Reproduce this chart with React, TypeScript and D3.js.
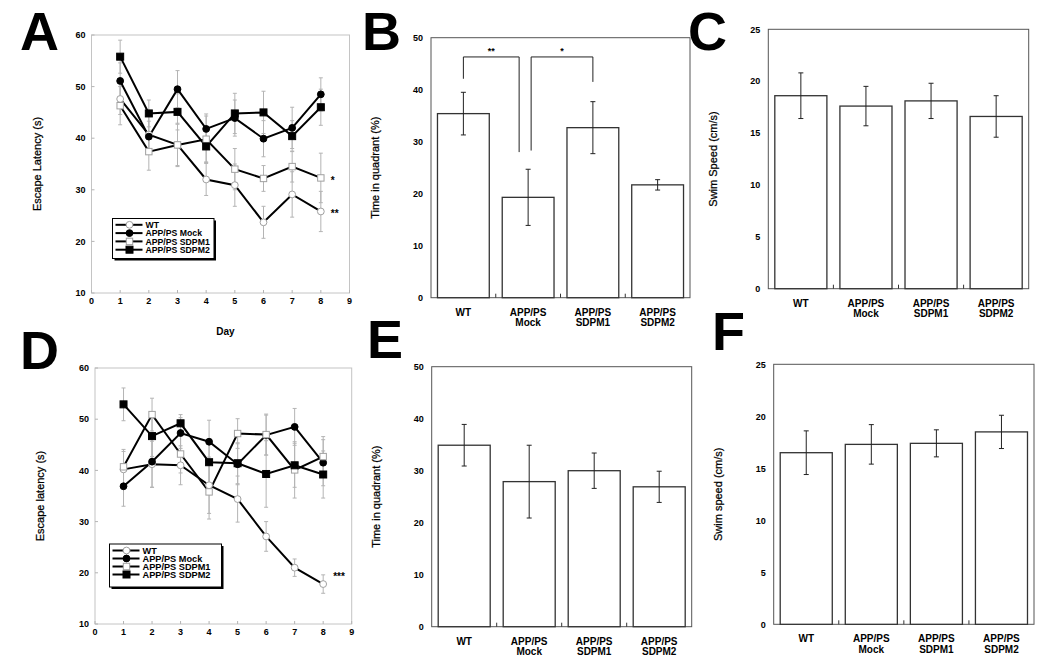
import React from "react";
import * as d3 from "d3";

// ---------- shared categories / ticks ----------
const days = [1, 2, 3, 4, 5, 6, 7, 8];
const dayTicks = [0, 1, 2, 3, 4, 5, 6, 7, 8, 9];
const latencyTicks = [10, 20, 30, 40, 50, 60];
const quadrantTicks = [0, 10, 20, 30, 40, 50];
const speedTicks = [0, 5, 10, 15, 20, 25];
const groupNames = ["WT", "APP/PS Mock", "APP/PS SDPM1", "APP/PS SDPM2"];
const groupLabels = [["WT"], ["APP/PS", "Mock"], ["APP/PS", "SDPM1"], ["APP/PS", "SDPM2"]];
const markerKinds = ["openCircle", "filledCircle", "openSquare", "filledSquare"];

// ---------- Panel A: escape latency ----------
const aWT = [47.6, 40.7, 38.7, 32.0, 30.9, 23.7, 29.1, 25.8];
const aWTErr = [3.0, 3.5, 4.0, 3.1, 4.1, 3.1, 4.4, 3.9];
const aMock = [51.1, 40.3, 49.5, 41.8, 43.9, 39.9, 42.0, 48.5];
const aMockErr = [3.5, 3.0, 3.6, 2.9, 3.5, 3.5, 4.0, 3.2];
const aS1 = [46.3, 37.4, 38.7, 39.8, 34.0, 32.2, 34.5, 32.3];
const aS1Err = [3.7, 3.6, 4.2, 4.5, 4.0, 2.5, 3.0, 4.8];
const aS2 = [55.8, 44.8, 45.1, 38.4, 44.8, 45.0, 40.4, 46.0];
const aS2Err = [3.2, 2.6, 3.5, 3.0, 3.9, 4.1, 3.0, 3.5];
const aStars = [
  { series: 2, text: "*", dy: 0 },
  { series: 0, text: "**", dy: 0 },
];

// ---------- Panel D: escape latency ----------
const dWT = [40.2, 41.2, 41.0, 37.1, 34.4, 27.1, 21.0, 17.8];
const dWTErr = [3.5, 4.5, 3.8, 5.5, 4.5, 2.9, 1.7, 1.8];
const dMock = [36.9, 41.7, 47.3, 45.6, 41.2, 46.9, 48.5, 41.5];
const dMockErr = [3.9, 5.0, 3.0, 4.2, 4.0, 3.9, 3.6, 4.5];
const dS1 = [40.7, 50.9, 43.2, 35.8, 47.2, 47.0, 40.1, 42.7];
const dS1Err = [3.4, 3.2, 3.7, 5.3, 2.9, 4.0, 5.5, 3.9];
const dS2 = [52.9, 46.7, 49.2, 41.6, 41.4, 39.3, 41.0, 39.2];
const dS2Err = [3.2, 4.0, 1.7, 4.0, 4.0, 6.5, 4.3, 4.6];
const dStars = [{ series: 0, text: "***", dy: -10 }];

// ---------- Bar panels ----------
const bMean = [35.4, 19.3, 32.7, 21.7];
const bErr = [4.1, 5.4, 5.0, 1.0];
const cMean = [18.6, 17.6, 18.1, 16.6];
const cErr = [2.2, 1.9, 1.7, 2.0];
const eMean = [34.9, 27.9, 30.0, 26.9];
const eErr = [4.0, 7.0, 3.4, 3.0];
const fMean = [16.5, 17.3, 17.4, 18.5];
const fErr = [2.1, 1.9, 1.3, 1.6];

const bBrackets = [
  { from: 0, to: 1, top: 46.3, fromEnd: 42.1, toEnd: 28.0, label: "**", fromDx: 0, toDx: -9 },
  { from: 1, to: 2, top: 46.3, fromEnd: 28.3, toEnd: 41.5, label: "*", fromDx: 3, toDx: 0 },
];

const FONT = "'Liberation Sans', Arial, Helvetica, sans-serif";

function Marker({ kind, cx, cy }: { kind: string; cx: number; cy: number }) {
  const open = kind.startsWith("open");
  const fill = open ? "#fff" : "#000";
  const stroke = open ? "#a0a0a0" : "#000";
  if (kind.endsWith("Circle")) {
    return <circle cx={cx} cy={cy} r={3.4} fill={fill} stroke={stroke} strokeWidth={1} />;
  }
  const s = open ? 6.4 : 7;
  return <rect x={cx - s / 2} y={cy - s / 2} width={s} height={s} fill={fill} stroke={stroke} strokeWidth={1} />;
}

type Series = { values: number[]; errs: number[]; kind: string };
type Star = { series: number; text: string; dy: number };

function LinePanel(props: {
  frame: { l: number; r: number; t: number; b: number };
  series: Series[];
  yTitle: string;
  titleX: number;
  legend: { x: number; y: number; w: number; h: number; row0: number; gap: number; fs: number };
  stars: Star[];
  showDay: boolean;
}) {
  const { frame, series, yTitle, titleX, legend, stars, showDay } = props;
  const x = d3.scaleLinear().domain([0, 9]).range([frame.l, frame.r]);
  const y = d3.scaleLinear().domain([10, 60]).range([frame.b, frame.t]);
  const line = d3
    .line<number>()
    .x((_, i) => x(days[i]))
    .y((d) => y(d));
  const gray = "#b4b4b4";
  return (
    <g fontFamily={FONT}>
      <rect x={frame.l} y={frame.t} width={frame.r - frame.l} height={frame.b - frame.t} fill="none" stroke="#c4c4c4" strokeWidth={1} />
      {latencyTicks.map((t) => (
        <g key={"yt" + t}>
          <line x1={frame.l} x2={frame.l + 3} y1={y(t)} y2={y(t)} stroke={gray} />
          <text x={frame.l - 6} y={y(t) + 3.2} textAnchor="end" fontSize={9} fontWeight="bold">
            {t}
          </text>
        </g>
      ))}
      {dayTicks.map((t) => (
        <g key={"xt" + t}>
          <line x1={x(t)} x2={x(t)} y1={frame.b} y2={frame.b - 3} stroke={gray} />
          <text x={x(t)} y={frame.b + 11} textAnchor="middle" fontSize={9} fontWeight="bold">
            {t}
          </text>
        </g>
      ))}
      {showDay && (
        <text x={(x(0) + x(9)) / 2 + 5} y={frame.b + 42} textAnchor="middle" fontSize={10} fontWeight="bold">
          Day
        </text>
      )}
      <text
        transform={`translate(${titleX},${(frame.t + frame.b) / 2}) rotate(-90)`}
        textAnchor="middle"
        fontSize={11}
        fill="#000"
        stroke="#000"
        strokeWidth={0.25}
      >
        {yTitle}
      </text>
      {/* error bars */}
      {series.map((s, si) =>
        s.values.map((v, i) => {
          const cx = x(days[i]);
          const hi = y(v + s.errs[i]);
          const lo = y(v - s.errs[i]);
          return (
            <g key={`e${si}-${i}`} stroke={gray} strokeWidth={1}>
              <line x1={cx} x2={cx} y1={hi} y2={lo} />
              <line x1={cx - 2} x2={cx + 2} y1={hi} y2={hi} />
              <line x1={cx - 2} x2={cx + 2} y1={lo} y2={lo} />
            </g>
          );
        })
      )}
      {series.map((s, si) => (
        <path key={"l" + si} d={line(s.values) || ""} fill="none" stroke="#000" strokeWidth={2} strokeLinejoin="miter" />
      ))}
      {series.map((s, si) =>
        s.values.map((v, i) => <Marker key={`m${si}-${i}`} kind={s.kind} cx={x(days[i])} cy={y(v)} />)
      )}
      {stars.map((st, i) => (
        <text
          key={"st" + i}
          x={x(8) + 10}
          y={y(series[st.series].values[7]) + 6 + st.dy}
          fontSize={10}
          fontWeight="bold"
        >
          {st.text}
        </text>
      ))}
      {/* legend */}
      <rect x={legend.x + 2} y={legend.y + 2} width={legend.w} height={legend.h} fill="#000" />
      <rect x={legend.x} y={legend.y} width={legend.w} height={legend.h} fill="#fff" stroke="#000" strokeWidth={1} />
      {groupNames.map((g, i) => {
        const ry = legend.y + legend.row0 + i * legend.gap;
        return (
          <g key={"lg" + i}>
            <line x1={legend.x + 3} x2={legend.x + 30} y1={ry} y2={ry} stroke="#000" strokeWidth={2} />
            <Marker kind={markerKinds[i]} cx={legend.x + 17} cy={ry} />
            <text x={legend.x + 33} y={ry + 3.2} fontSize={legend.fs} fontWeight="bold">
              {g}
            </text>
          </g>
        );
      })}
    </g>
  );
}

type Bracket = { from: number; to: number; top: number; fromEnd: number; toEnd: number; label: string; fromDx: number; toDx: number };

function BarPanel(props: {
  frame: { l: number; r: number; t: number; b: number };
  means: number[];
  errs: number[];
  ticks: number[];
  yTitle: string;
  titleX: number;
  brackets?: Bracket[];
}) {
  const { frame, means, errs, ticks, yTitle, titleX, brackets } = props;
  const x = d3.scaleBand<string>().domain(groupNames).range([frame.l, frame.r]).paddingInner(0.2).paddingOuter(0.1);
  const y = d3.scaleLinear().domain([0, ticks[ticks.length - 1]]).range([frame.b, frame.t]);
  const step = x.step();
  const bw = x.bandwidth();
  return (
    <g fontFamily={FONT}>
      <rect x={frame.l} y={frame.t} width={frame.r - frame.l} height={frame.b - frame.t} fill="none" stroke="#555" strokeWidth={1} />
      {ticks.map((t) => (
        <text key={"t" + t} x={frame.l - 8} y={y(t) + 3.2} textAnchor="end" fontSize={9} fontWeight="bold">
          {t}
        </text>
      ))}
      {[1, 2, 3].map((i) => (
        <line key={"xt" + i} x1={frame.l + i * step} x2={frame.l + i * step} y1={frame.b} y2={frame.b - 4} stroke="#333" />
      ))}
      <text
        transform={`translate(${titleX},${(frame.t + frame.b) / 2}) rotate(-90)`}
        textAnchor="middle"
        fontSize={11}
        fill="#000"
        stroke="#000"
        strokeWidth={0.25}
      >
        {yTitle}
      </text>
      {means.map((m, i) => {
        const bx = x(groupNames[i]) as number;
        const cx = bx + bw / 2;
        const hi = y(m + errs[i]);
        const lo = y(m - errs[i]);
        return (
          <g key={"b" + i}>
            <rect x={bx} y={y(m)} width={bw} height={frame.b - y(m)} fill="#fff" stroke="#333" strokeWidth={1.3} />
            <g stroke="#222" strokeWidth={1}>
              <line x1={cx} x2={cx} y1={hi} y2={lo} />
              <line x1={cx - 2.5} x2={cx + 2.5} y1={hi} y2={hi} />
              <line x1={cx - 2.5} x2={cx + 2.5} y1={lo} y2={lo} />
            </g>
            {groupLabels[i].map((ln, k) => (
              <text key={k} x={cx} y={frame.b + 18 + k * 10.5} textAnchor="middle" fontSize={10} fontWeight="bold">
                {ln}
              </text>
            ))}
          </g>
        );
      })}
      {(brackets || []).map((br, i) => {
        const x1 = (x(groupNames[br.from]) as number) + bw / 2 + br.fromDx;
        const x2 = (x(groupNames[br.to]) as number) + bw / 2 + br.toDx;
        const yt = y(br.top);
        return (
          <g key={"br" + i}>
            <path
              d={`M${x1},${y(br.fromEnd)}V${yt}H${x2}V${y(br.toEnd)}`}
              fill="none"
              stroke="#222"
              strokeWidth={1}
            />
            <text x={(x1 + x2) / 2} y={yt - 3} textAnchor="middle" fontSize={9} fontWeight="bold">
              {br.label}
            </text>
          </g>
        );
      })}
    </g>
  );
}

function Letter({ x, y, t }: { x: number; y: number; t: string }) {
  return (
    <text x={x} y={y} fontFamily={FONT} fontSize={54} fontWeight="bold">
      {t}
    </text>
  );
}

export default function App() {
  const aSeries: Series[] = [
    { values: aWT, errs: aWTErr, kind: markerKinds[0] },
    { values: aMock, errs: aMockErr, kind: markerKinds[1] },
    { values: aS1, errs: aS1Err, kind: markerKinds[2] },
    { values: aS2, errs: aS2Err, kind: markerKinds[3] },
  ];
  const dSeries: Series[] = [
    { values: dWT, errs: dWTErr, kind: markerKinds[0] },
    { values: dMock, errs: dMockErr, kind: markerKinds[1] },
    { values: dS1, errs: dS1Err, kind: markerKinds[2] },
    { values: dS2, errs: dS2Err, kind: markerKinds[3] },
  ];
  return (
    <svg width={1050} height={671} style={{ position: "absolute", left: 0, top: 0, background: "#fff" }}>
      <rect width={1050} height={671} fill="#fff" />
      <Letter x={20} y={50} t="A" />
      <Letter x={362} y={50} t="B" />
      <Letter x={688} y={50} t="C" />
      <Letter x={20} y={369} t="D" />
      <Letter x={367} y={358} t="E" />
      <Letter x={712} y={350} t="F" />

      <LinePanel
        frame={{ l: 91.5, r: 349.5, t: 35, b: 293 }}
        series={aSeries}
        yTitle="Escape Latency (s)"
        titleX={41}
        legend={{ x: 112.5, y: 218.5, w: 101.5, h: 40, row0: 6.3, gap: 8.3, fs: 8.7 }}
        stars={aStars}
        showDay={true}
      />
      <LinePanel
        frame={{ l: 95, r: 351.7, t: 368, b: 624 }}
        series={dSeries}
        yTitle="Escape latency (s)"
        titleX={44}
        legend={{ x: 109.5, y: 544, w: 112, h: 43, row0: 6.5, gap: 8, fs: 9.2 }}
        stars={dStars}
        showDay={false}
      />
      <BarPanel
        frame={{ l: 431, r: 690, t: 37.7, b: 297.7 }}
        means={bMean}
        errs={bErr}
        ticks={quadrantTicks}
        yTitle="Time in quadrant (%)"
        titleX={379}
        brackets={bBrackets}
      />
      <BarPanel
        frame={{ l: 768.3, r: 1028.7, t: 29.3, b: 288.7 }}
        means={cMean}
        errs={cErr}
        ticks={speedTicks}
        yTitle="Swim Speed (cm/s)"
        titleX={717}
      />
      <BarPanel
        frame={{ l: 431.7, r: 691.7, t: 366.7, b: 626.7 }}
        means={eMean}
        errs={eErr}
        ticks={quadrantTicks}
        yTitle="Time in quadrant (%)"
        titleX={380}
      />
      <BarPanel
        frame={{ l: 773.7, r: 1034, t: 364.3, b: 624.3 }}
        means={fMean}
        errs={fErr}
        ticks={speedTicks}
        yTitle="Swim speed (cm/s)"
        titleX={722}
      />
    </svg>
  );
}
